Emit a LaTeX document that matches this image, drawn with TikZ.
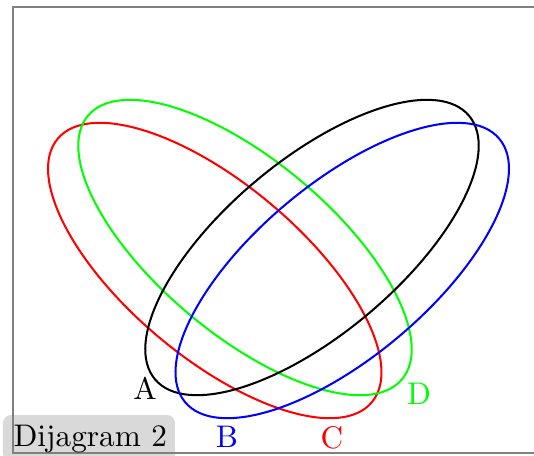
\documentclass[tikz,border=0pt]{standalone}
\begin{document}
\begin{tikzpicture}[x=0.32pt,y=-0.32pt,
  venn/.style={line width=0.65pt},
  lbl/.style={anchor=base,inner sep=0pt}]
\useasboundingbox (0,0) rectangle (534,456);
% caption box
\fill[black!15,rounded corners=2.6pt] (3,462) -- (3,415) -- (175,415) -- (175,462) -- cycle;
% frame
\draw[gray,line width=0.7pt] (540,7) -- (13,7) -- (13,453) -- (540,453);
% ellipses
\draw[venn,red,shift={(214.75,270.5)},rotate=-40] (0,0) ellipse [x radius=205, y radius=87];
\draw[venn,green,shift={(245,247.5)},rotate=-40] (0,0) ellipse [x radius=205, y radius=87];
\draw[venn,black,shift={(312,247.5)},rotate=40] (0,0) ellipse [x radius=205, y radius=87];
\draw[venn,blue,shift={(342.25,270.5)},rotate=40] (0,0) ellipse [x radius=205, y radius=87];
% labels
\node[lbl,black] (la) at (145,400) {A};
\node[lbl,blue] (lb) at (227,447) {B};
\node[lbl,red] (lc) at (332,448) {C};
\node[lbl,green] (ld) at (419,404) {D};
\node[anchor=base west,inner sep=0pt] (cap) at (13,446) {Dijagram 2};
\end{tikzpicture}
\end{document}
